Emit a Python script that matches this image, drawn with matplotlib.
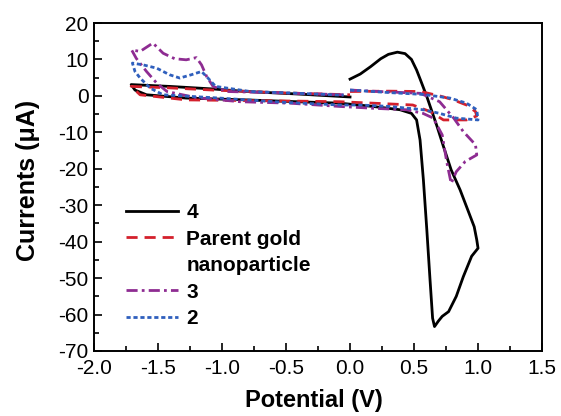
import matplotlib
matplotlib.use("Agg")
import matplotlib.pyplot as plt
from matplotlib.lines import Line2D
from matplotlib.ticker import MultipleLocator

plt.rcParams['font.family'] = ['Liberation Sans', 'DejaVu Sans']
plt.rcParams['axes.unicode_minus'] = False

# curve "4" (black)
v4 = [0.00, 0.08, 0.16, 0.24, 0.30, 0.37, 0.43, 0.48, 0.52, 0.55, 0.60, 0.64,
      0.68, 0.73, 0.79, 0.86, 0.92, 0.97, 0.99, 1.00, 0.95, 0.885, 0.83, 0.77,
      0.72, 0.69, 0.66, 0.645, 0.625, 0.60, 0.573, 0.547, 0.52, 0.48, 0.39,
      0.18, -0.08, -0.50, -0.81, -1.28, -1.59, -1.68, -1.71, -1.41, -1.07,
      -0.81, -0.40, 0.00]
i4 = [4.6, 6.0, 8.0, 10.2, 11.4, 12.0, 11.6, 10.0, 7.1, 4.4, -0.2, -4.3,
      -8.4, -13.9, -20.3, -25.8, -31.3, -35.9, -39.5, -41.8, -44.0, -49.6, -55.0, -59.2,
      -60.5, -61.8, -63.3, -61.0, -50.5, -36.8, -23.0, -12.1, -6.6, -4.8, -3.8,
      -2.9, -2.0, -1.5, -1.1, -0.6, 0.3, 1.6, 3.1, 2.6, 1.9,
      1.2, 0.5, -0.3]

# parent gold nanoparticle (red)
v_parent = [0.00, 0.30, 0.55, 0.70, 0.80, 0.91, 0.98, 0.99, 0.91, 0.73, 0.625,
            0.49, 0.18, -0.08, -0.50, -1.28, -1.64, -1.71, -1.41, -1.07, -0.50, 0.00]
i_parent = [1.2, 1.3, 1.2, 0.0, -1.0, -2.5, -4.3, -5.5, -6.6, -6.6, -4.3,
            -2.5, -2.0, -1.6, -1.4, -1.1, 0.3, 2.6, 2.2, 1.6, 0.8, 0.3]

# curve "3" (purple)
v3 = [0.00, 0.23, 0.55, 0.70, 0.81, 0.885, 0.98, 0.99, 0.90, 0.83, 0.79, 0.755,
      0.72, 0.65, 0.57, 0.44, 0.18, -0.08, -0.47, -0.86, -1.20, -1.43, -1.51,
      -1.59, -1.67, -1.706, -1.64, -1.54, -1.46, -1.37, -1.28, -1.20, -1.16,
      -1.12, -1.07, -0.96, -0.50, -0.05]
i3 = [1.6, 1.2, 0.7, -1.6, -6.1, -9.8, -13.4, -16.2, -18.0, -20.8, -24.0, -18.0,
      -10.7, -6.1, -4.8, -3.8, -3.4, -2.9, -2.0, -1.6, -0.5, 1.2, 3.5,
      6.7, 10.3, 12.6, 12.2, 14.5, 11.7, 10.2, 9.9, 10.5, 8.5,
      5.3, 2.6, 1.2, 0.8, 0.3]

# curve "2" (blue)
v2 = [0.00, 0.31, 0.57, 0.78, 0.91, 0.99, 1.00, 0.83, 0.70, 0.57, 0.31, 0.08,
      -0.08, -0.50, -1.02, -1.46, -1.56, -1.64, -1.68, -1.70, -1.615, -1.51,
      -1.41, -1.33, -1.24, -1.16, -1.11, -1.05, -0.78, -0.40, -0.05]
i2 = [1.6, 0.9, 0.4, -0.6, -2.0, -3.8, -6.6, -6.1, -4.8, -3.8, -2.9, -2.5,
      -2.5, -1.8, -0.6, 0.3, 2.1, 4.9, 6.7, 9.0, 8.5, 7.6,
      5.8, 4.9, 5.8, 6.7, 4.9, 2.6, 1.2, 0.7, 0.2]

fig = plt.figure(figsize=(5.61, 4.16), dpi=100)
ax = fig.add_axes([0.1676, 0.1563, 0.7986, 0.7884])

lw = 2.0
ax.plot(v4, i4, color="black", lw=lw, label="4")
ax.plot(v_parent, i_parent, color="#d4202c", lw=lw, ls=(0, (4, 2.5)),
        label="Parent gold")
ax.plot(v3, i3, color="#8e2c92", lw=lw, ls=(0, (4, 1.5, 1, 1.5)), label="3")
ax.plot(v2, i2, color="#2f5fbd", lw=lw, ls=(0, (1.5, 1)), label="2")

ax.set_xlim(-2.0, 1.5)
ax.set_ylim(-70, 20)
ax.xaxis.set_major_locator(MultipleLocator(0.5))
ax.xaxis.set_minor_locator(MultipleLocator(0.25))
ax.yaxis.set_major_locator(MultipleLocator(10))
ax.yaxis.set_minor_locator(MultipleLocator(5))
ax.tick_params(which="both", direction="in", top=False, right=False,
               labelsize=15, width=1.2)
ax.tick_params(which="major", length=6, pad=4)
ax.tick_params(which="minor", length=3.5)
ax.tick_params(axis="x", which="major", pad=6)
for s in ax.spines.values():
    s.set_linewidth(1.4)

ax.set_xlabel("Potential (V)", fontsize=17, fontweight="bold")
ax.set_ylabel("Currents (\u03bcA)", fontsize=18, fontweight="bold")
ax.xaxis.set_label_coords(0.49, -0.115)
ax.yaxis.set_label_coords(-0.12, 0.52)

# legend: second line of the parent label has no handle
h, l = ax.get_legend_handles_labels()
blank = Line2D([], [], ls="none")
handles = [h[0], h[1], blank, h[2], h[3]]
labels = ["4", "Parent gold", "nanoparticle", "3", "2"]
ax.legend(handles, labels, loc="lower left", bbox_to_anchor=(0.071, 0.07),
          frameon=False, prop={"size": 15, "weight": "bold"},
          handlelength=2.5, handletextpad=0.4, labelspacing=0.36,
          borderpad=0, borderaxespad=0)

fig.savefig("out.png", dpi=100)
